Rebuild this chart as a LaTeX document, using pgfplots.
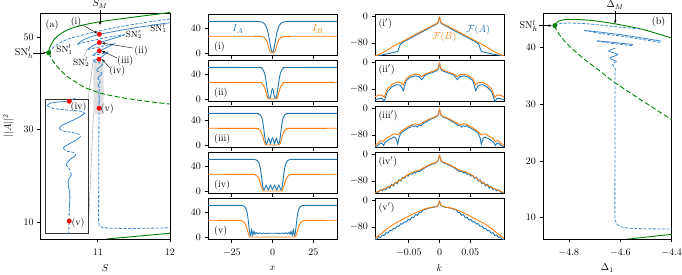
\documentclass[border=0pt]{standalone}
\usepackage{pgfplots}
\usepackage{pgfplotstable}
\pgfplotsset{compat=1.18}
\usetikzlibrary{arrows.meta}
\definecolor{cblue}{HTML}{1F77B4}
\definecolor{corange}{HTML}{FF7F0E}
\definecolor{cgreen}{HTML}{008000}
\definecolor{lblue}{HTML}{3A86C8}
\pgfplotsset{
  base/.style={scale only axis, anchor=south west, axis line style={line width=0.7pt}, tick align=outside, tick pos=left, major tick length=3.5pt, tick style={line width=0.7pt,black}, clip mode=individual, xticklabel style={yshift=-3pt}},
  gdash/.style={cgreen, line width=0.9pt, smooth, dash pattern=on 5pt off 2.5pt},
  gsol/.style={cgreen, line width=0.9pt, smooth},
  bsol/.style={lblue, line width=0.8pt, smooth},
  bdash/.style={lblue, line width=0.8pt, smooth, dash pattern=on 3pt off 1.6pt},
  prof/.style={base, width=129pt, height=41.5pt, xmin=-39.5, xmax=39.5, ymin=-4, ymax=63, xtick={-25,0,25}, ytick={0,40}, xticklabels={}},
  spec/.style={base, width=129pt, height=41.5pt, xmin=-0.105, xmax=0.105, ymin=-118, ymax=8, xtick={-0.05,0,0.05}, ytick={-80,0}, xticklabels={}},
}
\tikzset{sn/.style={font=\small, inner sep=1pt}}
% ---------- profiles (x >= 0, mirrored) ----------
\pgfplotstableread{
x A B
0 1.0 0
0.5 3.0 0.1
1 8.3 0.5
1.5 15.5 2.5
2 23.1 6.5
2.5 30 11
3 35.8 15.5
3.5 40 19
4 43.5 21.8
5 47.5 24.8
6 49.4 26.1
8 50.7 26.8
12 51 27
40 51 27
}\tPi
\pgfplotstableread{
x A B
0 17 0
0.5 13.5 0
1 6 0
1.5 1.5 0
2 1.5 0
2.5 5 0.5
3 12 2.5
3.5 21 6.5
4 30 11.5
4.5 37.5 16
5 42.5 19.5
5.5 45.8 22
6 48 23.8
7 50.2 25.9
9 50.9 26.8
40 51 27
}\tPii
\pgfplotstableread{
x A B
0 12 0
0.6 8 0
1.2 2 0
1.8 7 0
2.4 11 0
3.0 6 0
3.6 1.5 0
4.2 4 0.5
4.7 12 2.5
5.2 23 6.5
5.7 33 12
6.2 40.5 16.5
6.8 45.5 20.5
7.6 48.8 23.8
9 50.6 26.2
11 51 26.9
40 51 27
}\tPiii
\pgfplotstableread{
x A B
0 2 0
0.65 6 0
1.3 9.5 0
1.95 6 0
2.6 2 0
3.25 5.5 0
3.9 9.5 0
4.55 5.5 0
5.2 2 0
5.8 5 0.5
6.3 14 2.5
6.8 25 6.5
7.3 34.5 11.5
7.8 41 16
8.4 45.8 20
9.2 49 23.5
10.5 50.6 26
13 51 26.9
40 51 27
}\tPiv
\pgfplotstableread{
x A B
0 6 0
2 6.2 0
4 5.8 0
6 6.3 0
7 5.6 0
8 6.8 0
9 5.2 0
10 7.5 0
10.7 4.5 0
11.4 9 0
12.1 3 0
12.8 12 0
13.4 2.5 0
13.9 6 0.5
14.4 16 2.5
14.9 28 6.5
15.4 37.5 11.5
15.9 43.5 16
16.5 47.3 20
17.3 49.7 23.5
18.6 50.8 26
21 51 26.9
40 51 27
}\tPv
% ---------- spectra (k >= 0, mirrored) ----------
\pgfplotstableread{
k FA FB
0 -1 0
0.0015 -15 -13
0.003 -20 -18
0.005 -23 -21
0.01 -28 -26
0.02 -38 -35
0.03 -48 -45
0.04 -58 -55
0.05 -68 -65
0.06 -78 -75
0.064 -85 -79
0.068 -106 -83
0.075 -109 -90
0.08 -111 -96
0.09 -115 -107
0.1 -118 -116
0.106 -121 -120
}\tSi
\pgfplotstableread{
k FA FB
0 -1 0
0.0015 -16 -14
0.003 -22 -19
0.006 -26 -23
0.012 -30 -27
0.018 -34 -31
0.024 -39 -35
0.029 -52 -43
0.033 -43 -37
0.04 -40 -35
0.047 -44 -39
0.054 -54 -48
0.059 -85 -68
0.063 -69 -61
0.07 -67 -60
0.077 -73 -66
0.085 -88 -80
0.09 -118 -105
0.094 -108 -98
0.1 -110 -100
0.106 -114 -104
}\tSii
\pgfplotstableread{
k FA FB
0 -1 0
0.0015 -15 -14
0.003 -21 -20
0.006 -26 -24
0.012 -30 -28
0.018 -36 -33
0.024 -43 -39
0.027 -46 -42
0.03 -51 -45
0.033 -49 -49
0.036 -56 -48
0.039 -52 -46
0.042 -54 -47
0.045 -51 -49
0.048 -57 -52
0.051 -59 -55
0.054 -63 -58
0.057 -66 -62
0.06 -70 -66
0.063 -75 -70
0.066 -88 -76
0.068 -108 -80
0.071 -90 -77
0.074 -86 -77
0.077 -89 -80
0.08 -92 -83
0.083 -95 -86
0.086 -99 -89
0.089 -104 -95
0.091 -112 -100
0.094 -104 -97
0.097 -106 -99
0.1 -112 -105
0.103 -114 -109
0.106 -117 -112
}\tSiii
\pgfplotstableread{
k FA FB
0 -1 0
0.0015 -14 -13
0.003 -20 -19
0.006 -25 -23
0.012 -29 -27
0.018 -34 -32
0.024 -40 -38
0.027 -44 -41
0.03 -48 -45
0.033 -52 -47
0.036 -50 -49
0.039 -56 -50
0.042 -54 -52
0.045 -60 -54
0.048 -58 -57
0.051 -65 -60
0.054 -63 -64
0.057 -72 -68
0.06 -69 -72
0.063 -80 -76
0.066 -76 -80
0.069 -88 -83
0.072 -84 -87
0.075 -95 -90
0.078 -90 -93
0.081 -102 -96
0.084 -97 -99
0.087 -106 -101
0.09 -103 -104
0.093 -110 -106
0.096 -107 -109
0.099 -113 -111
0.102 -115 -113
0.106 -118 -116
}\tSiv
\pgfplotstableread{
k FA FB
0 -1 0
0.0015 -11 -10
0.003 -16 -15
0.006 -19 -18
0.012 -21 -20
0.018 -23 -22
0.024 -27 -25
0.027 -28 -27
0.03 -36 -30
0.033 -36 -32
0.036 -45 -35
0.039 -42 -37
0.042 -52 -40
0.045 -50 -42
0.048 -59 -45
0.051 -57 -48
0.054 -65 -51
0.057 -64 -54
0.06 -71 -57
0.063 -70 -60
0.066 -78 -63
0.069 -77 -66
0.072 -85 -69
0.075 -84 -72
0.078 -91 -76
0.081 -91 -80
0.084 -99 -84
0.087 -97 -88
0.09 -106 -93
0.093 -104 -97
0.096 -112 -102
0.099 -110 -106
0.102 -117 -110
0.106 -118 -115
}\tSv
\newcommand{\prof}[1]{%
\addplot[cblue,line width=0.9pt,smooth,tension=0.4] table[x=x,y=A]{#1};
\addplot[cblue,line width=0.9pt,smooth,tension=0.4] table[x expr=-\thisrow{x},y=A]{#1};
\addplot[corange,line width=0.9pt,smooth,tension=0.4] table[x=x,y=B]{#1};
\addplot[corange,line width=0.9pt,smooth,tension=0.4] table[x expr=-\thisrow{x},y=B]{#1};}
\newcommand{\spec}[1]{%
\addplot[cblue,line width=0.9pt] table[x=k,y=FA]{#1};
\addplot[cblue,line width=0.9pt] table[x expr=-\thisrow{k},y=FA]{#1};
\addplot[corange,line width=0.9pt] table[x=k,y=FB]{#1};
\addplot[corange,line width=0.9pt] table[x expr=-\thisrow{k},y=FB]{#1};}
\begin{document}
\begin{tikzpicture}
\path[use as bounding box] (0pt,0pt) rectangle (682pt,275pt);
% ================= panel (a) =================
\begin{axis}[base, at={(40.7pt,36pt)}, width=129.3pt, height=226pt,
  xmin=10.21, xmax=12, ymin=6.32, ymax=55.19, xtick={11,12}, ytick={10,30,50},
  xlabel={$S$}, ylabel={$||A||^2$},
  every axis y label/.style={at={(axis description cs:-0.25,0.5)},rotate=90,anchor=center},
  every axis x label/.style={at={(axis description cs:0.5,-0.128)},anchor=center}]
\addplot[fill=black!12, draw=none] coordinates {(10.94,33.3) (11.08,33.3) (11.08,45.2) (10.94,45.2) (10.94,33.3)};
\draw[black!40, line width=0.4pt] (axis cs:10.94,45.2) -- (axis cs:10.866,36.6);
\draw[black!40, line width=0.4pt] (axis cs:10.94,33.3) -- (axis cs:10.866,7.47);
% green
\addplot[gsol] coordinates {(10.32,46.6)(10.33,47.6)(10.36,48.5)(10.39,49.35)(10.45,50.3)(10.55,51.3)(10.66,52.0)(10.8,52.6)(11.03,53.3)(11.35,54.0)(11.7,54.7)(12.0,55.3)};
\addplot[gdash] coordinates {(10.32,46.6)(10.345,45.8)(10.386,44.65)(10.48,42.9)(10.57,41.55)(10.69,40.3)(10.82,39.1)(11.03,37.9)(11.26,37.1)(11.49,36.5)(11.72,36.0)(12.0,35.5)};
\addplot[gsol] coordinates {(11.12,6.32)(12,7.56)};
% blue snake
\addplot[bdash] coordinates {(10.33,46.7)(10.37,47.5)(10.45,48.5)(10.58,49.5)(10.78,50.4)(11.02,51.3)(11.3,52.2)(11.6,53.0)(12.0,53.9)};
\addplot[bsol] coordinates {(12.0,53.1)(11.6,52.2)(11.3,51.4)(11.03,50.6)(10.88,49.9)(10.78,49.2)(10.72,48.4)};
\addplot[bdash] coordinates {(10.72,48.4)(10.8,48.8)(10.92,49.2)(11.03,49.6)(11.2,50.1)(11.38,50.5)};
\addplot[bsol] coordinates {(11.38,50.5)(11.2,49.6)(11.03,48.8)(10.93,48.1)(10.86,47.3)};
\addplot[bdash] coordinates {(10.86,47.3)(10.95,47.6)(11.03,47.9)(11.15,48.3)(11.24,48.6)};
\addplot[bsol] coordinates {(11.24,48.6)(11.12,47.7)(11.03,47.0)(10.97,46.5)(10.93,46.0)};
\addplot[bdash] coordinates {(10.93,46.0)(11.03,46.3)(11.14,46.7)};
\addplot[bsol] coordinates {(11.14,46.7)(11.06,45.8)(11.018,45.22)(10.987,45.16)(10.954,45.02)(10.945,44.81)};
\addplot[bdash] coordinates {(10.945,44.81)(10.965,44.57)(11.009,44.43)(11.053,44.34)(11.069,44.13)};
\addplot[bsol] coordinates {(11.069,44.13)(11.053,43.83)(11.02,43.39)(10.992,43.04)(10.985,42.8)};
\addplot[bdash] coordinates {(10.985,42.8)(10.998,42.57)(11.025,42.45)(11.05,42.27)(11.055,42.06)};
\addplot[bsol] coordinates {(11.055,42.06)(11.042,41.77)(11.02,41.47)(11.003,41.18)(10.998,41.03)};
\addplot[bdash] coordinates {(10.998,41.03)(11.009,40.79)(11.031,40.68)(11.04,40.44)};
\addplot[bsol] coordinates {(11.04,40.44)(11.025,40.14)(11.014,39.85)(11.007,39.61)};
\addplot[bdash] coordinates {(11.007,39.61)(11.02,39.11)(11.025,38.67)};
\addplot[bsol] coordinates {(11.025,38.67)(11.014,38.08)(11.02,36.9)(11.018,35.7)};
\addplot[bdash] coordinates {(11.018,35.7)(11.017,34.6)(11.014,25)(11.012,15)(11.012,10.5)(11.02,9.3)(11.06,8.85)(11.2,8.65)(11.5,8.6)(12.0,8.75)};
% dots
\addplot[only marks, mark=*, mark size=2.2pt, color=red] coordinates {(11.022,50.6)(11.022,48.8)(11.022,47.0)(11.018,45.2)(11.018,34.6)};
\addplot[only marks, mark=*, mark size=2.2pt, color=cgreen] coordinates {(10.32,46.6)};
% annotations
\node at (axis cs:10.368,52.6) {(a)};
\node at (axis cs:11.032,57.1) {$S_M$};
\draw[-{Stealth[length=3pt,width=2.5pt]}, line width=0.4pt] (axis cs:11.032,55.9) -- (axis cs:11.032,52.6);
\node at (axis cs:9.98,46.6) {SN$_h^l$};
\draw[-{Stealth[length=3pt,width=2.5pt]}, line width=0.4pt] (axis cs:10.105,46.6) -- (axis cs:10.285,46.6);
\node at (axis cs:10.70,53.2) {(i)};
\draw[-{Stealth[length=3pt,width=2.5pt]}, line width=0.4pt] (axis cs:10.80,52.5) -- (axis cs:10.99,50.8);
\node[sn] at (axis cs:11.84,51.8) {SN$_1^r$};
\node[sn] at (axis cs:11.5,50.5) {SN$_2^r$};
\node at (axis cs:11.6,47.0) {(ii)};
\draw[-{Stealth[length=3pt,width=2.5pt]}, line width=0.4pt] (axis cs:11.49,47.6) -- (axis cs:11.06,48.7);
\node at (axis cs:11.38,44.8) {(iii)};
\draw[-{Stealth[length=3pt,width=2.5pt]}, line width=0.4pt] (axis cs:11.27,45.45) -- (axis cs:11.06,46.95);
\node at (axis cs:11.27,42.6) {(iv)};
\draw[-{Stealth[length=3pt,width=2.5pt]}, line width=0.4pt] (axis cs:11.17,43.3) -- (axis cs:11.06,45.15);
\node at (axis cs:11.13,34.4) {(v)};
\node[sn] at (axis cs:10.54,47.3) {SN$_1^l$};
\node[sn] at (axis cs:10.77,44.6) {SN$_2^l$};
\draw[black!40, line width=0.4pt] (axis cs:10.81,45.8) -- (axis cs:10.85,47.2);
\end{axis}
% ---------- inset ----------
\begin{axis}[scale only axis, anchor=south west, at={(45.7pt,41.5pt)}, width=42.3pt, height=134.5pt,
  xmin=10.94, xmax=11.08, ymin=33.5, ymax=45.4, xtick=\empty, ytick=\empty,
  axis line style={line width=0.6pt, black!80}, axis background/.style={fill=white}, clip mode=individual]
\addplot[bsol] coordinates {(11.14,46.7)(11.06,45.8)(11.018,45.22)(10.987,45.16)(10.954,45.02)(10.945,44.81)};
\addplot[bdash] coordinates {(10.945,44.81)(10.965,44.57)(11.009,44.43)(11.053,44.34)(11.069,44.13)};
\addplot[bsol] coordinates {(11.069,44.13)(11.053,43.83)(11.02,43.39)(10.992,43.04)(10.985,42.8)};
\addplot[bdash] coordinates {(10.985,42.8)(10.998,42.57)(11.025,42.45)(11.05,42.27)(11.055,42.06)};
\addplot[bsol] coordinates {(11.055,42.06)(11.042,41.77)(11.02,41.47)(11.003,41.18)(10.998,41.03)};
\addplot[bdash] coordinates {(10.998,41.03)(11.009,40.79)(11.031,40.68)(11.04,40.44)};
\addplot[bsol] coordinates {(11.04,40.44)(11.025,40.14)(11.014,39.85)(11.007,39.61)};
\addplot[bdash] coordinates {(11.007,39.61)(11.02,39.11)(11.025,38.67)};
\addplot[bsol] coordinates {(11.025,38.67)(11.014,38.08)(11.02,36.9)(11.018,35.7)};
\addplot[bdash] coordinates {(11.018,35.7)(11.017,34.6)(11.016,33.0)};
\addplot[only marks, mark=*, mark size=2.2pt, color=red] coordinates {(11.018,45.2)(11.018,34.6)};
\node at (axis cs:11.049,44.65) {(iv)};
\node at (axis cs:11.047,34.47) {(v)};
\end{axis}
% ================= profiles =================
\begin{axis}[prof, at={(208pt,219.5pt)}]
\prof{\tPi}
\node[anchor=west] at (axis description cs:0.02,0.2) {(i)};
\node[cblue] at (axis cs:-21.2,38.9) {$I_A$};
\node[corange] at (axis cs:27.7,38.9) {$I_B$};
\end{axis}
\begin{axis}[prof, at={(208pt,173.5pt)}]
\prof{\tPii}
\node[anchor=west] at (axis description cs:0.02,0.2) {(ii)};
\end{axis}
\begin{axis}[prof, at={(208pt,127.5pt)}]
\prof{\tPiii}
\node[anchor=west] at (axis description cs:0.02,0.2) {(iii)};
\end{axis}
\begin{axis}[prof, at={(208pt,81.5pt)}]
\prof{\tPiv}
\node[anchor=west] at (axis description cs:0.02,0.2) {(iv)};
\end{axis}
\begin{axis}[prof, at={(208pt,35.5pt)}, xticklabels={$-25$,$0$,$25$}, xlabel={$x$},
  every axis x label/.style={at={(axis description cs:0.5,-0.69)},anchor=center}]
\prof{\tPv}
\node[anchor=west] at (axis description cs:0.02,0.2) {(v)};
\end{axis}
% ================= spectra =================
\begin{axis}[spec, at={(375pt,219.5pt)}]
\spec{\tSi}
\node[anchor=west] at (axis description cs:0.0,0.77) {(i$'$)};
\node[corange] at (axis cs:0.008,-62) {$\mathcal{F}(B)$};
\node[cblue] at (axis cs:0.063,-41) {$\mathcal{F}(A)$};
\end{axis}
\begin{axis}[spec, at={(375pt,173.5pt)}]
\spec{\tSii}
\node[anchor=west] at (axis description cs:0.0,0.77) {(ii$'$)};
\end{axis}
\begin{axis}[spec, at={(375pt,127.5pt)}]
\spec{\tSiii}
\node[anchor=west] at (axis description cs:0.0,0.77) {(iii$'$)};
\end{axis}
\begin{axis}[spec, at={(375pt,81.5pt)}]
\spec{\tSiv}
\node[anchor=west] at (axis description cs:0.0,0.77) {(iv$'$)};
\end{axis}
\begin{axis}[spec, at={(375pt,35.5pt)}, xticklabels={$-0.05$,$0$,$0.05$}, xlabel={$k$},
  every axis x label/.style={at={(axis description cs:0.5,-0.69)},anchor=center}]
\spec{\tSv}
\node[anchor=west] at (axis description cs:0.0,0.77) {(v$'$)};
\end{axis}
% ================= panel (b) =================
\begin{axis}[base, at={(543pt,36pt)}, width=128.7pt, height=225.7pt,
  xmin=-4.901, xmax=-4.4, ymin=6.24, ymax=46.07, xtick={-4.8,-4.6,-4.4}, xticklabels={$-4.8$,$-4.6$,$-4.4$}, ytick={10,20,30,40},
  xlabel={$\Delta_1$},
  every axis x label/.style={at={(axis description cs:0.5,-0.128)},anchor=center}]
\addplot[gsol] coordinates {(-4.855,43.9)(-4.845,44.5)(-4.83,44.85)(-4.8,45.0)(-4.757,44.95)(-4.7,44.75)(-4.626,44.25)(-4.55,43.6)(-4.51,43.2)(-4.45,42.4)(-4.4,41.7)};
\addplot[gdash] coordinates {(-4.855,43.9)(-4.845,42.8)(-4.81,40.8)(-4.744,38.1)(-4.68,35.9)(-4.62,33.8)(-4.52,30.8)(-4.4,27.3)};
\addplot[gsol] coordinates {(-4.6,6.07)(-4.4,7.07)};
\addplot[bdash] coordinates {(-4.855,43.9)(-4.84,44.2)(-4.8,44.35)(-4.74,44.25)(-4.68,44.0)(-4.62,43.7)(-4.56,43.45)(-4.52,43.3)};
\addplot[bsol] coordinates {(-4.74,43.05)(-4.68,42.75)(-4.6,42.3)(-4.52,41.75)(-4.44,41.15)};
\addplot[bdash] coordinates {(-4.74,43.05)(-4.68,42.55)(-4.6,42.05)(-4.52,41.5)(-4.44,40.9)};
\addplot[bsol] coordinates {(-4.69,41.2)(-4.63,40.95)(-4.55,40.55)};
\addplot[bdash] coordinates {(-4.69,41.2)(-4.63,40.75)(-4.55,40.35)};
\addplot[bsol] coordinates {(-4.62,39.9)(-4.645,39.4)(-4.61,38.8)(-4.64,38.2)(-4.615,37.6)};
\addplot[bdash] coordinates {(-4.615,37.6)(-4.63,37.0)(-4.62,36.3)(-4.621,34)(-4.621,20)(-4.621,10.5)(-4.616,9.2)(-4.60,8.45)(-4.55,8.1)(-4.4,8.0)};
\addplot[only marks, mark=*, mark size=2.2pt, color=cgreen] coordinates {(-4.855,43.9)};
\node at (axis cs:-4.451,44.5) {(b)};
\node at (axis cs:-4.62,47.5) {$\Delta_M$};
\draw[-{Stealth[length=3pt,width=2.5pt]}, line width=0.4pt] (axis cs:-4.62,46.5) -- (axis cs:-4.62,44.3);
\node at (axis cs:-4.957,43.8) {SN$_h^l$};
\draw[-{Stealth[length=3pt,width=2.5pt]}, line width=0.4pt] (axis cs:-4.918,43.9) -- (axis cs:-4.867,43.9);
\end{axis}
\end{tikzpicture}
\end{document}
